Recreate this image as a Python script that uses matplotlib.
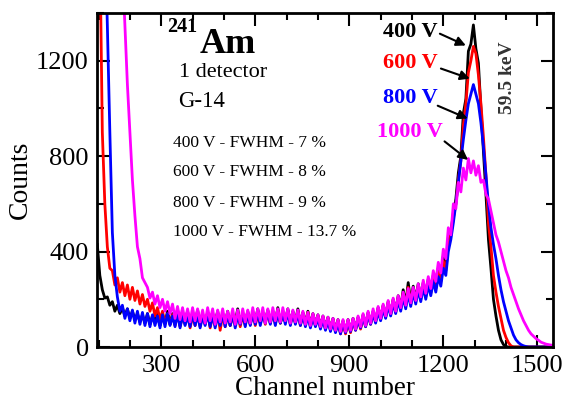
import numpy as np
from matplotlib import pyplot as plt

plt.rcParams['font.family'] = ['Liberation Serif', 'DejaVu Serif']

# canais (passo de 8)
canais = np.arange(96, 1553, 8)

# contagens (400 V, 600 V, 800 V, 1000 V)
cont400 = [430, 300, 240, 205, 210, 175, 190, 150, 175, 140,
           165, 130, 160, 120, 150, 115, 140, 105, 135, 100,
           140, 95, 130, 105, 145, 90, 135, 100, 150, 95,
           140, 105, 155, 90, 130, 110, 150, 95, 140, 100,
           155, 95, 135, 100, 145, 90, 140, 105, 150, 95,
           140, 100, 150, 90, 135, 105, 160, 95, 140, 100,
           150, 95, 145, 105, 160, 100, 140, 110, 155, 100,
           150, 105, 165, 100, 145, 110, 160, 100, 150, 105,
           160, 95, 145, 100, 150, 90, 140, 95, 135, 85,
           130, 80, 125, 75, 120, 70, 115, 60, 110, 60,
           115, 65, 120, 75, 125, 80, 135, 90, 145, 100,
           150, 110, 165, 120, 175, 130, 190, 140, 200, 150,
           215, 165, 240, 180, 270, 190, 255, 200, 265, 210,
           270, 220, 285, 235, 300, 260, 330, 290, 380, 340,
           450, 480, 560, 620, 730, 800, 980, 1040, 1240, 1270,
           1350, 1250, 1190, 1000, 820, 640, 450, 330, 200, 130,
           70, 30, 10, 2, 0, 0, 0, 0, 0, 0,
           0, 0, 0, 0, 0, 0, 0, 0, 0, 0,
           0, 0, 0]
cont600 = [2500, 1700, 900, 600, 420, 330, 320, 260, 290, 230,
           270, 215, 260, 200, 250, 195, 235, 180, 220, 170,
           200, 150, 185, 130, 165, 115, 150, 100, 140, 95,
           135, 90, 140, 85, 130, 95, 140, 80, 130, 90,
           140, 85, 135, 95, 145, 80, 130, 90, 140, 70,
           135, 85, 140, 90, 130, 95, 145, 85, 135, 90,
           140, 95, 150, 90, 135, 100, 145, 95, 150, 100,
           145, 95, 155, 100, 140, 105, 150, 95, 145, 100,
           150, 90, 140, 95, 145, 85, 135, 90, 130, 80,
           125, 75, 120, 70, 115, 65, 110, 55, 105, 55,
           110, 60, 115, 70, 120, 75, 130, 85, 140, 95,
           145, 105, 160, 115, 170, 125, 185, 135, 195, 145,
           205, 160, 225, 170, 250, 180, 240, 190, 255, 200,
           260, 210, 275, 225, 290, 245, 315, 275, 360, 320,
           430, 470, 540, 600, 700, 780, 930, 1020, 1150, 1200,
           1260, 1230, 1140, 1020, 880, 720, 520, 420, 300, 230,
           170, 120, 70, 40, 18, 5, 0, 0, 0, 0,
           0, 0, 0, 0, 0, 0, 0, 0, 0, 0,
           0, 0, 0]
cont800 = [4000, 3100, 2200, 1750, 1350, 900, 480, 300, 210, 150,
           175, 120, 160, 110, 155, 100, 150, 95, 145, 90,
           140, 85, 135, 90, 130, 80, 135, 85, 140, 90,
           130, 85, 140, 80, 135, 90, 130, 85, 140, 90,
           135, 80, 130, 90, 140, 85, 135, 80, 130, 90,
           140, 85, 135, 90, 140, 80, 130, 95, 140, 85,
           145, 90, 140, 95, 150, 90, 140, 100, 145, 95,
           150, 90, 145, 100, 140, 95, 150, 90, 145, 95,
           140, 90, 135, 85, 130, 80, 125, 85, 120, 75,
           115, 70, 110, 65, 105, 60, 100, 55, 105, 60,
           105, 65, 110, 70, 115, 80, 125, 85, 135, 95,
           140, 100, 150, 110, 160, 120, 175, 130, 185, 140,
           195, 150, 210, 160, 225, 170, 230, 180, 240, 190,
           250, 200, 260, 215, 275, 230, 295, 255, 330, 300,
           400, 450, 520, 600, 690, 780, 870, 950, 1020, 1060,
           1100, 1060, 1020, 940, 840, 720, 600, 500, 430, 370,
           300, 240, 190, 150, 110, 80, 50, 30, 18, 10,
           5, 2, 0, 0, 0, 0, 0, 0, 0, 0,
           0, 0, 0]
cont1000 = [6000, 5500, 5000, 4500, 4000, 3500, 3000, 2600, 2200, 1900,
            1600, 1350, 1100, 900, 700, 550, 420, 370, 290, 270,
            250, 205, 230, 180, 215, 165, 200, 150, 190, 140,
            180, 120, 170, 115, 165, 110, 160, 105, 165, 110,
            160, 105, 155, 100, 165, 110, 160, 95, 155, 105,
            160, 100, 150, 105, 160, 95, 155, 100, 160, 105,
            155, 100, 165, 105, 160, 110, 165, 100, 160, 105,
            165, 110, 160, 105, 165, 110, 160, 100, 155, 105,
            155, 100, 150, 95, 145, 90, 140, 95, 135, 85,
            130, 80, 125, 75, 120, 70, 115, 65, 115, 65,
            115, 70, 120, 75, 130, 85, 140, 90, 150, 100,
            160, 110, 170, 120, 180, 130, 195, 140, 205, 150,
            215, 165, 230, 175, 245, 185, 250, 195, 265, 210,
            280, 225, 295, 245, 320, 275, 355, 310, 410, 370,
            500, 470, 600, 580, 690, 650, 750, 700, 790, 730,
            780, 720, 760, 690, 700, 640, 620, 570, 520, 470,
            440, 400, 360, 320, 290, 250, 220, 190, 160, 135,
            110, 90, 70, 55, 45, 35, 28, 20, 16, 12,
            10, 8, 7]

fig = plt.figure(figsize=(5.71, 4.07), dpi=100)
ax = fig.add_axes([97/571, 1-347/407, (553-97)/571, (347-13)/407])

ax.plot(canais, cont400, color='black', lw=2)
ax.plot(canais, cont600, color='#ff0000', lw=2)
ax.plot(canais, cont800, color='#0000ff', lw=2)
ax.plot(canais, cont1000, color='#ff00ff', lw=2)

ax.set_xlim(95, 1550)
ax.set_ylim(0, 1400)
ax.set_xticks([300, 600, 900, 1200, 1500])
ax.set_xticks(np.arange(100, 1550, 100), minor=True)
ax.set_yticks([0, 400, 800, 1200])
ax.set_yticks([200, 600, 1000, 1400], minor=True)
ax.tick_params(which='both', direction='in', top=True, right=True, width=1.5, labelsize=19, pad=6)
ax.tick_params(which='major', length=9)
ax.tick_params(which='minor', length=5)
for s in ax.spines.values():
    s.set_linewidth(2)

ax.set_xlabel('Channel number', fontsize=19.5, labelpad=-1)
ax.set_ylabel('Counts', fontsize=20, labelpad=2)

# textos
ax.text(367, 1343, '241', fontsize=14.5, fontweight='bold', ha='center', va='center')
ax.text(424, 1268, 'Am', fontsize=26, fontweight='bold', ha='left', va='center')
ax.text(357, 1150, '1 detector', fontsize=16, ha='left', va='center')
ax.text(354, 1028, 'G-14', fontsize=16.5, ha='left', va='center')

linhas = ['400 V - FWHM - 7 %', '600 V - FWHM - 8 %', '800 V - FWHM - 9 %', '1000 V - FWHM - 13.7 %']
ylinhas = [856, 735, 604, 483]
for t, yy in zip(linhas, ylinhas):
    ax.text(338, yy, t, fontsize=12.5, ha='left', va='center')

rotulos = ['400 V', '600 V', '800 V', '1000 V']
cores = ['black', '#ff0000', '#0000ff', '#ff00ff']
yrot = [1322, 1192, 1045, 902]
caudas = [(1181, 1318), (1184, 1171), (1174, 1016), (1197, 869)]
pontas = [(1280, 1259), (1293, 1121), (1286, 953), (1286, 777)]
for r, c, yy, a, b in zip(rotulos, cores, yrot, caudas, pontas):
    ax.text(1095, yy, r, color=c, fontsize=16, fontweight='bold', ha='center', va='center')
    ax.annotate('', xy=b, xytext=a,
                arrowprops=dict(arrowstyle='-|>', color='black', lw=1.5, mutation_scale=14))

ax.text(1404, 1129, '59.5 keV', fontsize=14, fontweight='bold', color='#333333',
        rotation=90, ha='center', va='center')

fig.savefig('out.png', dpi=100)
